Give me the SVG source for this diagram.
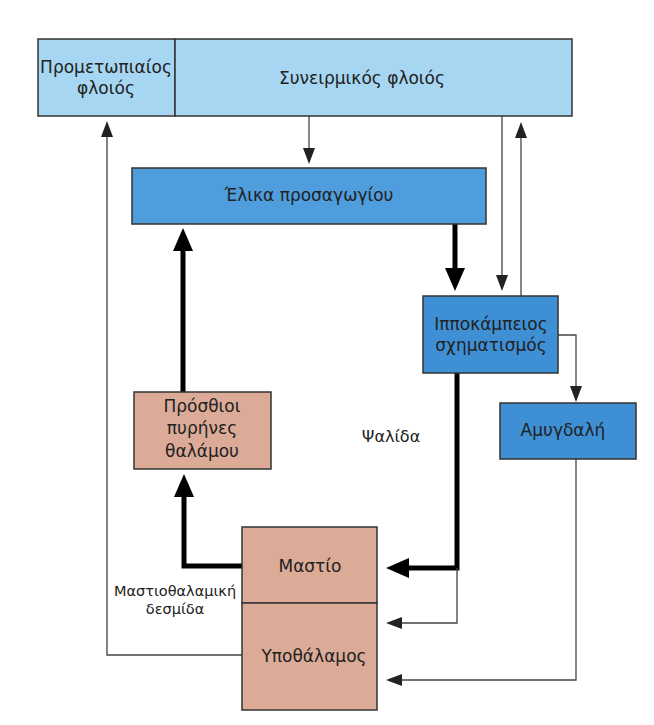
<svg xmlns="http://www.w3.org/2000/svg" width="654" height="725" viewBox="0 0 654 725">
<style>
.box{stroke:#333;stroke-width:1.5}
.lb{fill:#a6d6f1}
.mb{fill:#4f9ddc}
.db{fill:#3e8fd4}
.br{fill:#dbab98}
text{font-family:"DejaVu Sans","Liberation Sans",sans-serif;font-size:17px;fill:#222;text-anchor:middle}
.sm{font-size:14.5px}
.md{font-size:16px}
.thin{fill:none;stroke:#444;stroke-width:1.3}
.thick{fill:none;stroke:#000;stroke-width:5}
</style>
<defs>
<marker id="ah" markerUnits="userSpaceOnUse" markerWidth="17" markerHeight="12" refX="0" refY="6" orient="auto">
<path d="M0,0 L16,6 L0,12 Z" fill="#222"/>
</marker>
<marker id="ahT" markerUnits="userSpaceOnUse" markerWidth="24" markerHeight="20" refX="0" refY="10" orient="auto">
<path d="M0,0 L23,10 L0,20 Z" fill="#000"/>
</marker>
</defs>
<rect width="654" height="725" fill="#fff"/>

<g id="connectors">
<path class="thin" d="M309,116 V148" marker-end="url(#ah)"/>
<path class="thick" d="M455,224 V268" marker-end="url(#ahT)"/>
<path class="thin" d="M502,116 V275" marker-end="url(#ah)"/>
<path class="thin" d="M521,296 V138" marker-end="url(#ah)"/>
<path class="thin" d="M558,335 H576 V386" marker-end="url(#ah)"/>
<path class="thick" d="M457,373 V568 H409" marker-end="url(#ahT)"/>
<path class="thin" d="M457,568 V623 H402" marker-end="url(#ah)"/>
<path class="thin" d="M576,459 V680 H402" marker-end="url(#ah)"/>
<path class="thin" d="M242,655 H107 V137" marker-end="url(#ah)"/>
<path class="thick" d="M242,566 H184 V497" marker-end="url(#ahT)"/>
<path class="thick" d="M183,392 V251" marker-end="url(#ahT)"/>
</g>

<g id="prefrontal">
<rect class="box lb" x="38" y="39" width="137" height="77"/>
<text x="106" y="73">Προμετωπιαίος</text>
<text x="106" y="94">φλοιός</text>
</g>
<g id="association">
<rect class="box lb" x="175" y="39" width="397" height="77"/>
<text x="362" y="84">Συνειρμικός φλοιός</text>
</g>
<g id="cingulate">
<rect class="box mb" x="132" y="168" width="354" height="56"/>
<text x="309" y="201">Έλικα προσαγωγίου</text>
</g>
<g id="hippocampus">
<rect class="box db" x="423" y="296" width="135" height="77"/>
<text x="491" y="330">Ιπποκάμπειος</text>
<text x="491" y="351">σχηματισμός</text>
</g>
<g id="amygdala">
<rect class="box db" x="500" y="403" width="136" height="56"/>
<text x="563" y="436">Αμυγδαλή</text>
</g>
<g id="thalamus">
<rect class="box br" x="134" y="392" width="137" height="77"/>
<text x="202" y="412">Πρόσθιοι</text>
<text x="202" y="434">πυρήνες</text>
<text x="202" y="457">θαλάμου</text>
</g>
<g id="mammillary">
<rect class="box br" x="242" y="527" width="135" height="76"/>
<text x="310" y="572">Μαστίο</text>
</g>
<g id="hypothalamus">
<rect class="box br" x="242" y="603" width="135" height="107"/>
<text x="314" y="662">Υποθάλαμος</text>
</g>
<g id="labels">
<text class="md" x="391" y="442">Ψαλίδα</text>
<text class="sm" x="175" y="596">Μαστιοθαλαμική</text>
<text class="sm" x="175" y="614">δεσμίδα</text>
</g>
</svg>
